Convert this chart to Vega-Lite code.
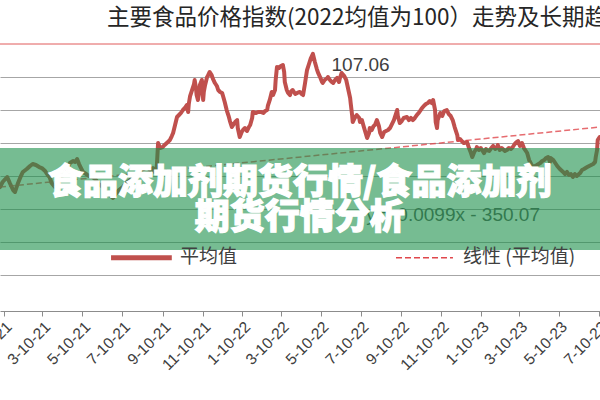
{
  "$schema": "https://vega.github.io/schema/vega-lite/v6.json",
  "width": 600,
  "height": 267,
  "autosize": {"type": "none"},
  "padding": {"top": 44, "left": 0, "right": 0, "bottom": 89},
  "background": "white",
  "config": {
    "view": {"stroke": null},
    "font": "Liberation Sans",
    "axisX": {"labelOverlap": false, "labelFlush": false, "labelBound": false}
  },
  "title": {
    "text": "主要食品价格指数(2022均值为100）走势及长期趋势",
    "anchor": "start",
    "frame": "group",
    "dx": 107,
    "offset": 14,
    "fontSize": 22.5,
    "font": "Noto Sans CJK SC",
    "fontWeight": "normal",
    "color": "#262626"
  },
  "datasets": {
    "avg": [
      {"date": 44200, "value": 88.33}, {"date": 44204, "value": 89.09}, {"date": 44211, "value": 89.85}, {"date": 44215, "value": 88.94},
      {"date": 44220, "value": 87.88}, {"date": 44223, "value": 87.58}, {"date": 44227, "value": 88.79}, {"date": 44232, "value": 90.0},
      {"date": 44235, "value": 90.61}, {"date": 44241, "value": 91.06}, {"date": 44246, "value": 91.52}, {"date": 44250, "value": 91.82},
      {"date": 44255, "value": 91.67}, {"date": 44260, "value": 91.36}, {"date": 44264, "value": 91.21}, {"date": 44269, "value": 90.76},
      {"date": 44273, "value": 90.15}, {"date": 44276, "value": 89.85}, {"date": 44279, "value": 88.94}, {"date": 44284, "value": 88.33},
      {"date": 44289, "value": 88.94}, {"date": 44293, "value": 89.70}, {"date": 44296, "value": 90.15}, {"date": 44301, "value": 90.91},
      {"date": 44304, "value": 91.36}, {"date": 44307, "value": 91.97}, {"date": 44312, "value": 92.27}, {"date": 44315, "value": 92.12},
      {"date": 44318, "value": 92.58}, {"date": 44321, "value": 91.82}, {"date": 44324, "value": 91.21}, {"date": 44327, "value": 90.61},
      {"date": 44332, "value": 90.30}, {"date": 44336, "value": 90.0}, {"date": 44342, "value": 89.85}, {"date": 44347, "value": 89.39},
      {"date": 44351, "value": 88.79}, {"date": 44358, "value": 88.33}, {"date": 44362, "value": 87.58}, {"date": 44368, "value": 87.12},
      {"date": 44373, "value": 86.67}, {"date": 44377, "value": 87.27}, {"date": 44382, "value": 87.88}, {"date": 44388, "value": 88.33},
      {"date": 44393, "value": 88.94}, {"date": 44399, "value": 89.39}, {"date": 44404, "value": 89.85}, {"date": 44410, "value": 90.30},
      {"date": 44414, "value": 90.76}, {"date": 44420, "value": 91.06}, {"date": 44425, "value": 91.36}, {"date": 44430, "value": 90.91},
      {"date": 44434, "value": 91.21}, {"date": 44437, "value": 90.61}, {"date": 44440, "value": 91.36}, {"date": 44442, "value": 95.0},
      {"date": 44445, "value": 94.24}, {"date": 44449, "value": 94.39}, {"date": 44452, "value": 94.70}, {"date": 44457, "value": 95.15},
      {"date": 44460, "value": 95.45}, {"date": 44463, "value": 96.06}, {"date": 44465, "value": 96.52}, {"date": 44468, "value": 97.73},
      {"date": 44471, "value": 98.94}, {"date": 44474, "value": 99.24}, {"date": 44477, "value": 99.55}, {"date": 44480, "value": 100.0},
      {"date": 44483, "value": 100.30}, {"date": 44486, "value": 100.76}, {"date": 44488, "value": 99.70}, {"date": 44489, "value": 100.91},
      {"date": 44491, "value": 102.12}, {"date": 44494, "value": 103.03}, {"date": 44497, "value": 103.94}, {"date": 44498, "value": 104.55},
      {"date": 44500, "value": 103.33}, {"date": 44501, "value": 102.27}, {"date": 44503, "value": 101.52}, {"date": 44505, "value": 102.73},
      {"date": 44506, "value": 103.79}, {"date": 44509, "value": 104.55}, {"date": 44511, "value": 101.52}, {"date": 44512, "value": 102.73},
      {"date": 44514, "value": 103.79}, {"date": 44517, "value": 105.0}, {"date": 44518, "value": 105.15}, {"date": 44521, "value": 105.76},
      {"date": 44524, "value": 105.30}, {"date": 44526, "value": 104.70}, {"date": 44529, "value": 104.09}, {"date": 44532, "value": 103.64},
      {"date": 44534, "value": 103.03}, {"date": 44537, "value": 102.73}, {"date": 44540, "value": 102.58}, {"date": 44541, "value": 102.27},
      {"date": 44544, "value": 101.21}, {"date": 44547, "value": 100.0}, {"date": 44550, "value": 99.09}, {"date": 44552, "value": 98.33},
      {"date": 44555, "value": 97.42}, {"date": 44558, "value": 97.88}, {"date": 44560, "value": 98.18}, {"date": 44563, "value": 98.48},
      {"date": 44564, "value": 97.27}, {"date": 44567, "value": 95.91}, {"date": 44570, "value": 96.67}, {"date": 44572, "value": 96.97},
      {"date": 44575, "value": 97.27}, {"date": 44578, "value": 96.82}, {"date": 44581, "value": 97.42}, {"date": 44583, "value": 97.73},
      {"date": 44586, "value": 98.79}, {"date": 44587, "value": 99.70}, {"date": 44592, "value": 99.55}, {"date": 44595, "value": 99.70},
      {"date": 44599, "value": 99.70}, {"date": 44603, "value": 99.55}, {"date": 44606, "value": 99.85}, {"date": 44609, "value": 100.0},
      {"date": 44610, "value": 100.61}, {"date": 44613, "value": 101.52}, {"date": 44616, "value": 102.73}, {"date": 44618, "value": 102.27},
      {"date": 44621, "value": 103.03}, {"date": 44622, "value": 104.55}, {"date": 44624, "value": 106.52}, {"date": 44627, "value": 106.36},
      {"date": 44630, "value": 106.67}, {"date": 44633, "value": 106.82}, {"date": 44635, "value": 105.76}, {"date": 44636, "value": 104.24},
      {"date": 44639, "value": 103.03}, {"date": 44641, "value": 102.58}, {"date": 44644, "value": 102.27}, {"date": 44645, "value": 102.73},
      {"date": 44648, "value": 103.03}, {"date": 44652, "value": 102.42}, {"date": 44655, "value": 102.58}, {"date": 44659, "value": 102.73},
      {"date": 44662, "value": 102.42}, {"date": 44664, "value": 102.27}, {"date": 44667, "value": 104.09}, {"date": 44670, "value": 106.06},
      {"date": 44673, "value": 106.97}, {"date": 44676, "value": 107.88}, {"date": 44679, "value": 108.5}, {"date": 44682, "value": 107.27},
      {"date": 44685, "value": 106.21}, {"date": 44687, "value": 105.61}, {"date": 44690, "value": 105.0}, {"date": 44693, "value": 104.24},
      {"date": 44694, "value": 104.09}, {"date": 44697, "value": 104.55}, {"date": 44701, "value": 104.85}, {"date": 44702, "value": 105.0},
      {"date": 44705, "value": 104.55}, {"date": 44708, "value": 104.24}, {"date": 44710, "value": 104.09}, {"date": 44713, "value": 104.55},
      {"date": 44716, "value": 104.85}, {"date": 44719, "value": 104.24}, {"date": 44720, "value": 104.70}, {"date": 44723, "value": 105.61},
      {"date": 44727, "value": 105.15}, {"date": 44730, "value": 104.55}, {"date": 44731, "value": 104.09}, {"date": 44734, "value": 102.73},
      {"date": 44736, "value": 101.82}, {"date": 44737, "value": 100.91}, {"date": 44739, "value": 99.24}, {"date": 44740, "value": 98.18},
      {"date": 44743, "value": 98.79}, {"date": 44746, "value": 99.24}, {"date": 44750, "value": 98.79}, {"date": 44751, "value": 98.18},
      {"date": 44754, "value": 98.48}, {"date": 44757, "value": 97.42}, {"date": 44762, "value": 95.76}, {"date": 44765, "value": 96.52},
      {"date": 44766, "value": 97.27}, {"date": 44769, "value": 96.97}, {"date": 44772, "value": 97.58}, {"date": 44774, "value": 97.73},
      {"date": 44777, "value": 98.48}, {"date": 44780, "value": 97.58}, {"date": 44782, "value": 96.52}, {"date": 44785, "value": 95.91},
      {"date": 44788, "value": 96.67}, {"date": 44791, "value": 96.82}, {"date": 44794, "value": 96.97}, {"date": 44797, "value": 97.27},
      {"date": 44800, "value": 97.88}, {"date": 44803, "value": 98.48}, {"date": 44806, "value": 99.39}, {"date": 44808, "value": 100.0},
      {"date": 44809, "value": 99.09}, {"date": 44812, "value": 98.03}, {"date": 44815, "value": 98.33}, {"date": 44818, "value": 98.79},
      {"date": 44823, "value": 98.94}, {"date": 44826, "value": 98.48}, {"date": 44829, "value": 98.79}, {"date": 44832, "value": 98.48},
      {"date": 44835, "value": 98.79}, {"date": 44838, "value": 99.24}, {"date": 44841, "value": 99.55}, {"date": 44846, "value": 100.30},
      {"date": 44849, "value": 100.61}, {"date": 44852, "value": 100.91}, {"date": 44855, "value": 101.06}, {"date": 44858, "value": 101.36},
      {"date": 44861, "value": 101.06}, {"date": 44863, "value": 101.52}, {"date": 44866, "value": 100.0}, {"date": 44867, "value": 98.18},
      {"date": 44869, "value": 97.27}, {"date": 44870, "value": 98.48}, {"date": 44874, "value": 99.55}, {"date": 44877, "value": 99.09},
      {"date": 44880, "value": 99.85}, {"date": 44884, "value": 100.0}, {"date": 44887, "value": 99.39}, {"date": 44890, "value": 99.09},
      {"date": 44893, "value": 98.48}, {"date": 44896, "value": 97.42}, {"date": 44900, "value": 96.21}, {"date": 44901, "value": 95.45},
      {"date": 44904, "value": 95.61}, {"date": 44907, "value": 95.30}, {"date": 44910, "value": 95.0}, {"date": 44915, "value": 95.15},
      {"date": 44918, "value": 94.24}, {"date": 44921, "value": 93.48}, {"date": 44923, "value": 92.88}, {"date": 44926, "value": 93.64},
      {"date": 44929, "value": 94.09}, {"date": 44930, "value": 94.39}, {"date": 44933, "value": 93.94}, {"date": 44936, "value": 94.24},
      {"date": 44938, "value": 93.94}, {"date": 44941, "value": 93.48}, {"date": 44944, "value": 94.09}, {"date": 44945, "value": 93.94},
      {"date": 44949, "value": 93.79}, {"date": 44952, "value": 94.24}, {"date": 44955, "value": 94.55}, {"date": 44958, "value": 94.09},
      {"date": 44961, "value": 94.39}, {"date": 44962, "value": 94.70}, {"date": 44965, "value": 93.94}, {"date": 44968, "value": 94.24},
      {"date": 44973, "value": 93.79}, {"date": 44976, "value": 93.94}, {"date": 44979, "value": 94.24}, {"date": 44982, "value": 94.09},
      {"date": 44985, "value": 94.39}, {"date": 44988, "value": 94.85}, {"date": 44991, "value": 95.15}, {"date": 44993, "value": 95.30},
      {"date": 44996, "value": 94.55}, {"date": 44999, "value": 95.0}, {"date": 45002, "value": 94.24}, {"date": 45005, "value": 93.79},
      {"date": 45007, "value": 93.48}, {"date": 45010, "value": 92.42}, {"date": 45013, "value": 91.82}, {"date": 45016, "value": 91.36},
      {"date": 45019, "value": 91.52}, {"date": 45022, "value": 91.67}, {"date": 45027, "value": 91.97}, {"date": 45030, "value": 92.27},
      {"date": 45033, "value": 92.42}, {"date": 45036, "value": 92.73}, {"date": 45039, "value": 92.88}, {"date": 45042, "value": 92.12},
      {"date": 45043, "value": 92.73}, {"date": 45047, "value": 92.42}, {"date": 45050, "value": 91.97}, {"date": 45053, "value": 91.52},
      {"date": 45057, "value": 91.06}, {"date": 45062, "value": 90.61}, {"date": 45065, "value": 90.30}, {"date": 45068, "value": 90.61},
      {"date": 45071, "value": 90.15}, {"date": 45074, "value": 90.30}, {"date": 45077, "value": 89.85}, {"date": 45080, "value": 90.30},
      {"date": 45083, "value": 90.0}, {"date": 45088, "value": 90.45}, {"date": 45091, "value": 90.91}, {"date": 45094, "value": 91.06},
      {"date": 45099, "value": 91.36}, {"date": 45102, "value": 91.52}, {"date": 45105, "value": 91.67}, {"date": 45108, "value": 91.82},
      {"date": 45111, "value": 92.12}, {"date": 45112, "value": 92.88}, {"date": 45114, "value": 93.94}, {"date": 45115, "value": 95.45},
      {"date": 45117, "value": 95.76}, {"date": 45118, "value": 95.91}
    ],
    "trend": [
      {"date": 44200, "value": 88.33},
      {"date": 45118.5, "value": 97.42}
    ]
  },
  "layer": [
    {
      "data": {"name": "avg"},
      "mark": {"type": "line", "strokeWidth": 4, "strokeJoin": "round", "strokeCap": "round", "color": "#c0504d"},
      "encoding": {
        "x": {
          "field": "date", "type": "quantitative",
          "scale": {"domain": [44200, 45118.5], "nice": false, "zero": false},
          "axis": {
            "values": [44206, 44265, 44326, 44387, 44449, 44510, 44571, 44630, 44691, 44752, 44814, 44875, 44936, 44995, 45056, 45117],
            "tickCount": 100,
            "labelExpr": "utcFormat(toDate((datum.value - 25569) * 86400000), '%-m-%d-%y')",
            "labelAngle": -45,
            "labelFontSize": 15.5,
            "labelColor": "#404040",
            "labelFont": "Liberation Sans",
            "labelOverlap": false,
            "labelFlush": false,
            "labelBound": false,
            "labelPadding": 3,
            "title": null,
            "grid": false,
            "domainColor": "#8c8c8c",
            "tickColor": "#8c8c8c",
            "tickSize": 5
          }
        },
        "y": {
          "field": "value", "type": "quantitative",
          "scale": {"domain": [69.55, 110], "nice": false, "zero": false},
          "axis": {
            "values": [75, 80, 85, 90, 95, 100, 105],
            "tickCount": 100,
            "labels": false, "ticks": false, "domain": false, "title": null,
            "grid": true, "gridColor": "#a6a6a6", "gridWidth": 1
          }
        }
      }
    },
    {
      "data": {"name": "trend"},
      "mark": {"type": "line", "strokeWidth": 1.5, "strokeDash": [6, 3], "color": "#e0474c", "opacity": 0.8},
      "encoding": {
        "x": {"field": "date", "type": "quantitative"},
        "y": {"field": "value", "type": "quantitative"}
      }
    },
    {
      "data": {"values": [{}]},
      "mark": {"type": "rule", "color": "#e05a5a", "strokeWidth": 1},
      "encoding": {"y": {"datum": 110}}
    },
    {
      "data": {"values": [{}]},
      "mark": {"type": "text", "align": "right", "baseline": "middle", "fontSize": 19, "font": "Liberation Sans", "color": "#595959"},
      "encoding": {"x": {"datum": 45026.6}, "y": {"datum": 84.09}, "text": {"value": "y = 0.0099x - 350.07"}}
    },
    {
      "data": {"values": [{}]},
      "mark": {"type": "rect", "color": "#1a8f4a", "opacity": 0.6},
      "encoding": {"x": {"datum": 44200}, "x2": {"datum": 45118.5}, "y": {"datum": 94.24}, "y2": {"datum": 78.79}}
    },
    {
      "data": {"values": [{}]},
      "mark": {"type": "text", "align": "center", "baseline": "middle", "fontSize": 35, "font": "Noto Sans CJK SC", "fontWeight": 900, "color": "white", "stroke": "white", "strokeWidth": 1.2},
      "encoding": {"x": {"datum": 44659}, "y": {"datum": 88.94}, "text": {"value": "食品添加剂期货行情/食品添加剂"}}
    },
    {
      "data": {"values": [{}]},
      "mark": {"type": "text", "align": "center", "baseline": "middle", "fontSize": 35, "font": "Noto Sans CJK SC", "fontWeight": 900, "color": "white", "stroke": "white", "strokeWidth": 1.2},
      "encoding": {"x": {"datum": 44659}, "y": {"datum": 83.7}, "text": {"value": "期货行情分析"}}
    },
    {
      "data": {"values": [{}]},
      "mark": {"type": "text", "align": "center", "baseline": "middle", "fontSize": 19, "font": "Liberation Sans", "color": "#404040"},
      "encoding": {"x": {"datum": 44752}, "y": {"datum": 106.82}, "text": {"value": "107.06"}}
    },
    {
      "data": {"values": [{}]},
      "mark": {"type": "rule", "color": "#c0504d", "strokeWidth": 5},
      "encoding": {"x": {"datum": 44370}, "x2": {"datum": 44463}, "y": {"datum": 77.6}}
    },
    {
      "data": {"values": [{}]},
      "mark": {"type": "text", "align": "left", "baseline": "middle", "fontSize": 19, "font": "Noto Sans CJK SC", "color": "#404040"},
      "encoding": {"x": {"datum": 44475.5}, "y": {"datum": 77.7}, "text": {"value": "平均值"}}
    },
    {
      "data": {"values": [{}]},
      "mark": {"type": "rule", "color": "#e0474c", "strokeWidth": 1.5, "strokeDash": [6, 3]},
      "encoding": {"x": {"datum": 44806.2}, "x2": {"datum": 44893.4}, "y": {"datum": 77.6}}
    },
    {
      "data": {"values": [{}]},
      "mark": {"type": "text", "align": "left", "baseline": "middle", "fontSize": 19, "font": "Noto Sans CJK SC", "color": "#404040"},
      "encoding": {"x": {"datum": 44908.8}, "y": {"datum": 77.7}, "text": {"value": "线性 (平均值)"}}
    }
  ]
}
